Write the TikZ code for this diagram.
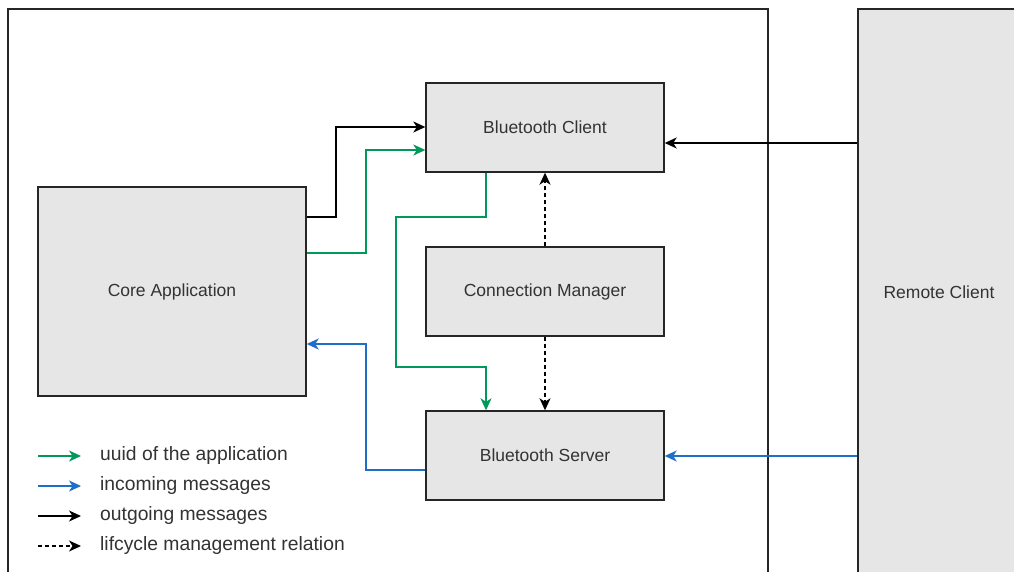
\documentclass[tikz,border=0pt]{standalone}
\usepackage{fontspec}
\setmainfont{Liberation Sans}
\usetikzlibrary{arrows.meta,calc}
\definecolor{boxfill}{HTML}{E6E6E6}
\definecolor{txt}{HTML}{333333}
\definecolor{grn}{HTML}{00995A}
\definecolor{blu}{HTML}{1F6FC8}
\begin{document}
\begin{tikzpicture}[x=1pt,y=-1pt,
  box/.style={draw=black!85,line width=1.4pt,fill=boxfill,rectangle,inner sep=0pt,
    text=txt,font=\fontsize{17.5}{21}\selectfont},
  conn/.style={line width=1.4pt,-{Stealth[length=12pt,width=11pt,inset=3.5pt]}},
  blk/.style={conn,draw=black},
  gr/.style={conn,draw=grn},
  bl/.style={conn,draw=blu},
  dsh/.style={conn,draw=black,dash pattern=on 4pt off 3pt},
  leg/.style={anchor=west,text=txt,font=\fontsize{19.3}{23}\selectfont,inner sep=0pt}]
\useasboundingbox (0,0) rectangle (1014,572);
\clip (0,0) rectangle (1014,572);
\fill[white] (0,0) rectangle (1014,572);
% container frame
\node[draw=black!85,line width=1.4pt,rectangle,inner sep=0pt,minimum width=760pt,minimum height=580pt] (frame) at (388,299) {};
% remote client
\node[box,minimum width=162pt,minimum height=566pt] (remote) at (939,292) {Remote Client};
% boxes
\node[box,minimum width=268pt,minimum height=209pt] (core) at (172,291.5) {Core Application};
\node[box,minimum width=238pt,minimum height=89pt] (bc) at (545,127.5) {Bluetooth Client};
\node[box,minimum width=238pt,minimum height=89pt] (cm) at (545,291.5) {Connection Manager};
\node[box,minimum width=238pt,minimum height=89pt] (bs) at (545,455.5) {Bluetooth Server};
% connectors
\draw[blk] (core.east |- 0,217) -- (336,217) -- (336,127) -- (bc.west |- 0,127);
\draw[gr] (core.east |- 0,253) -- (366,253) -- (366,150) -- (bc.west |- 0,150);
\draw[gr] (bc.south -| 486,0) -- (486,217) -- (396,217) -- (396,367) -- (486,367) -- (bs.north -| 486,0);
\draw[bl] (bs.west |- 0,470) -- (366,470) -- (366,344) -- (core.east |- 0,344);
\draw[dsh] (cm.north) -- (bc.south);
\draw[dsh] (cm.south) -- (bs.north);
\draw[blk] (remote.west |- 0,143) -- (bc.east |- 0,143);
\draw[bl] (remote.west |- 0,456) -- (bs.east |- 0,456);
% legend
\coordinate (l1a) at (38,456); \coordinate (l1b) at (81,456);
\coordinate (l2a) at (38,486); \coordinate (l2b) at (81,486);
\coordinate (l3a) at (38,516); \coordinate (l3b) at (81,516);
\coordinate (l4a) at (38,546); \coordinate (l4b) at (81,546);
\draw[gr] (l1a) -- (l1b);
\draw[bl] (l2a) -- (l2b);
\draw[blk] (l3a) -- (l3b);
\draw[dsh] (l4a) -- (l4b);
\node[leg] (t1) at (100,456) {uuid of the application};
\node[leg] (t2) at (100,486) {incoming messages};
\node[leg] (t3) at (100,516) {outgoing messages};
\node[leg] (t4) at (100,546) {lifcycle management relation};
\end{tikzpicture}
\end{document}
